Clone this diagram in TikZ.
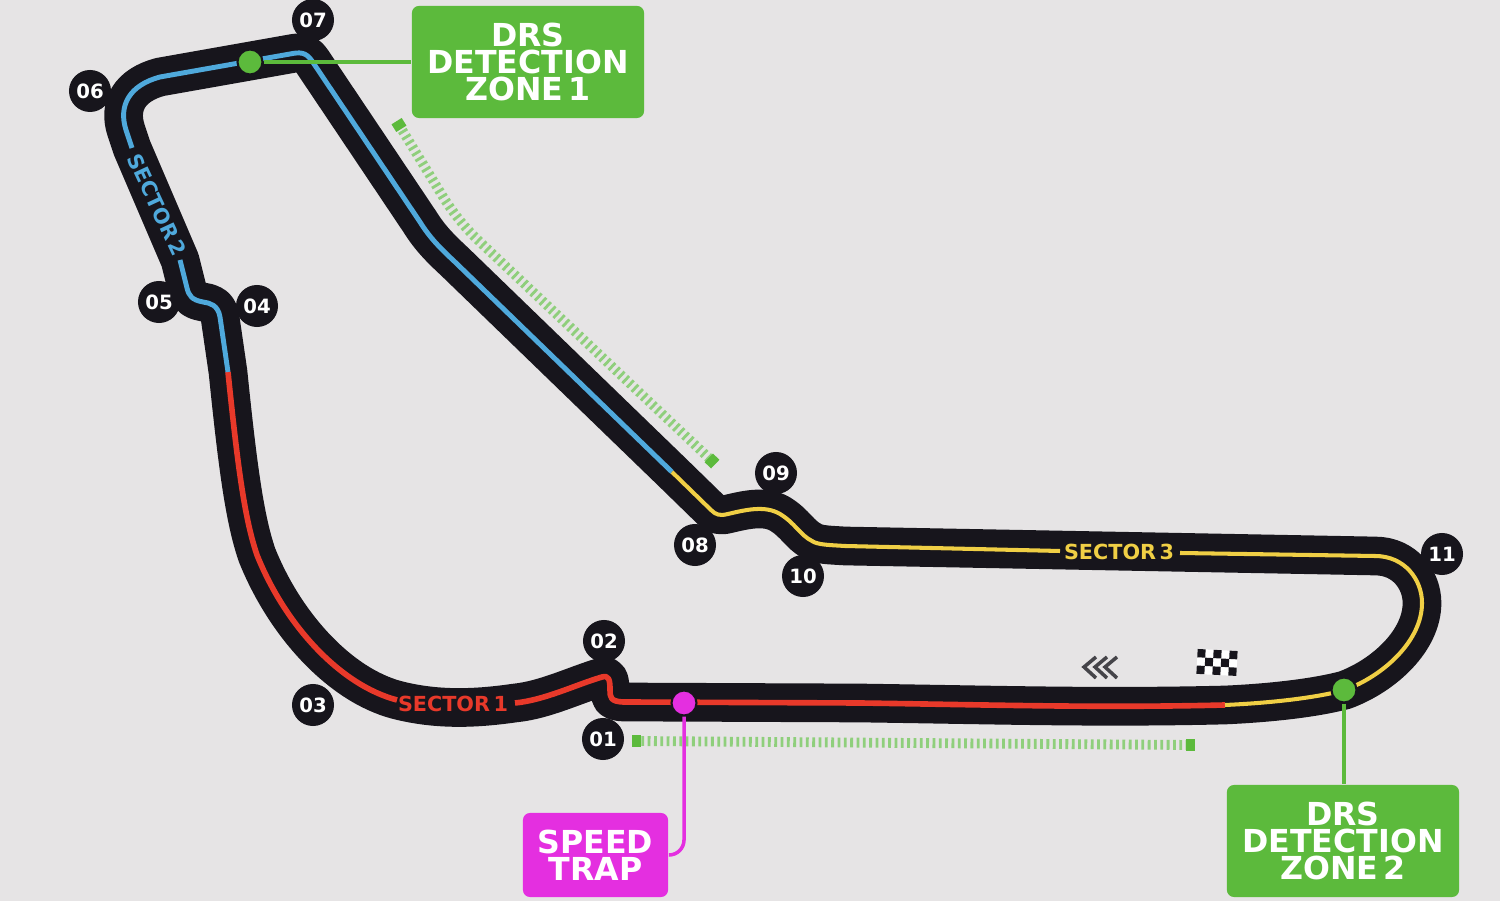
\documentclass[tikz,border=0pt]{standalone}
\usepackage{fontspec}
\setmainfont{DejaVu Sans}
\definecolor{pagegrey}{HTML}{E6E4E5}
\definecolor{trackblack}{HTML}{17151C}
\definecolor{drsgreen}{HTML}{5CBA3C}
\definecolor{dashgreen}{HTML}{8FCF7C}
\definecolor{trapmagenta}{HTML}{E42FE0}
\definecolor{sectorred}{HTML}{E8392A}
\definecolor{sectorblue}{HTML}{4FA9DC}
\definecolor{sectoryellow}{HTML}{F0CF45}

\begin{document}
\begin{tikzpicture}[x=0.01cm,y=-0.01cm,
    track/.style={trackblack,line width=11pt,line join=round,line cap=round},
    sector/.style={line cap=butt,line join=round},
    turn/.style={circle,fill=trackblack,text=white,inner sep=0pt,minimum size=0.42cm,font=\bfseries\fontsize{5.6}{6}\selectfont},
    tag/.style={inner sep=0pt,font=\bfseries\fontsize{5.9}{7}\selectfont},
    infobox/.style={rounded corners=0.07cm,text=white,align=center,inner sep=0pt,font=\bfseries\fontsize{9}{7.6}\selectfont},
    marker/.style={circle,draw=trackblack,line width=0.6pt,minimum size=0.25cm,inner sep=0pt},
    drszone/.style={dashgreen,line width=2.8pt,dash pattern=on 0.8pt off 1pt},
    zoneend/.style={fill=drsgreen,inner sep=0pt,minimum width=0.09cm,minimum height=0.12cm}]

    \fill[pagegrey] (0,0) rectangle (1500,901);
    \useasboundingbox (0,0) rectangle (1500,901);

    % drs zones
    \draw[drszone] (399,125) -- (445,200) .. controls (455,215) and (465,228) .. (480,242) -- (712,461);
    \draw[drszone] (635,741) -- (1190,745);
    \node[zoneend,rotate=-58] (zoneonestart) at (399,125) {};
    \node[zoneend,rotate=-44] (zoneoneend) at (712,461) {};
    \node[zoneend] (zonetwostart) at (636,741) {};
    \node[zoneend] (zonetwoend) at (1190,745) {};

    % black circuit
    \draw[track] (1225,705) .. controls (1100,708) and (1000,705) .. (860,703) -- (625,702)
        .. controls (610,702) and (610,697) .. (610,690) .. controls (610,680) and (609,675) .. (602,677)
        .. controls (575,685) and (545,700) .. (515,703) .. controls (480,708) and (440,711) .. (397,700)
        .. controls (340,685) and (285,625) .. (257,555) .. controls (245,520) and (238,470) .. (228,372)
        -- (220,317) .. controls (218,305) and (210,303) .. (203,302) .. controls (192,300) and (189,296) .. (187,288)
        -- (180,260) -- (132,148) -- (126,130) .. controls (118,105) and (130,85) .. (160,77)
        -- (290,54) .. controls (300,52) and (306,52) .. (312,61) -- (420,222)
        .. controls (430,238) and (440,248) .. (455,262) -- (672,472)
        -- (711,510) .. controls (716,515) and (720,516) .. (728,514) .. controls (745,510) and (765,505) .. (780,514)
        .. controls (795,523) and (800,535) .. (812,541) .. controls (818,545) and (830,545) .. (845,546)
        -- (1375,556) .. controls (1405,556) and (1422,580) .. (1422,603)
        .. controls (1422,640) and (1385,675) .. (1345,690) .. controls (1315,698) and (1270,703) .. (1225,705);

    % turn numbers
    \node[turn] (t1) at (603,739) {01};
    \node[turn] (t2) at (604,641) {02};
    \node[turn] (t3) at (313,705) {03};
    \node[turn] (t4) at (257,306) {04};
    \node[turn] (t5) at (159,302) {05};
    \node[turn] (t6) at (90,91) {06};
    \node[turn] (t7) at (313,20) {07};
    \node[turn] (t8) at (695,545) {08};
    \node[turn] (t9) at (776,473) {09};
    \node[turn] (t10) at (803,576) {10};
    \node[turn] (t11) at (1442,554) {11};

    % coloured sectors
    \draw[sector,sectorred,line width=1.6pt] (1225,705) .. controls (1100,708) and (1000,705) .. (860,703) -- (625,702)
        .. controls (610,702) and (610,697) .. (610,690) .. controls (610,680) and (609,675) .. (602,677)
        .. controls (575,685) and (545,700) .. (515,703);
    \draw[sector,sectorred,line width=1.6pt] (397,700) .. controls (340,685) and (285,625) .. (257,555)
        .. controls (245,520) and (238,470) .. (228,372);
    \draw[sector,sectorblue,line width=1.4pt] (228,372) -- (220,317) .. controls (218,305) and (210,303) .. (203,302)
        .. controls (192,300) and (189,296) .. (187,288) -- (180,260);
    \draw[sector,sectorblue,line width=1.4pt] (132,148) -- (126,130) .. controls (118,105) and (130,85) .. (160,77)
        -- (290,54) .. controls (300,52) and (306,52) .. (312,61) -- (420,222)
        .. controls (430,238) and (440,248) .. (455,262) -- (672,472);
    \draw[sector,sectoryellow,line width=1.15pt] (672,472) -- (711,510) .. controls (716,515) and (720,516) .. (728,514)
        .. controls (745,510) and (765,505) .. (780,514) .. controls (795,523) and (800,535) .. (812,541)
        .. controls (818,545) and (830,545) .. (845,546) -- (1060,551);
    \draw[sector,sectoryellow,line width=1.15pt] (1180,553) -- (1375,556) .. controls (1405,556) and (1422,580) .. (1422,603)
        .. controls (1422,640) and (1385,675) .. (1345,690) .. controls (1315,698) and (1270,703) .. (1225,705);

    \node[tag,text=sectorred] (s1) at (453,704) {SECTOR\,1};
    \node[tag,text=sectorblue,rotate=-65] (s2) at (157,205) {SECTOR\,2};
    \node[tag,text=sectoryellow] (s3) at (1119,552) {SECTOR\,3};

    % info boxes and their markers
    \node[infobox,fill=drsgreen,minimum width=2.32cm,minimum height=1.12cm] (drsbox1) at (528,62) {DRS\\DETECTION\\ZONE\,1};
    \node[infobox,fill=drsgreen,minimum width=2.32cm,minimum height=1.12cm] (drsbox2) at (1343,841) {DRS\\DETECTION\\ZONE\,2};
    \node[infobox,fill=trapmagenta,minimum width=1.45cm,minimum height=0.84cm] (trapbox) at (595.5,855) {SPEED\\TRAP};

    \node[marker,fill=drsgreen] (drsdot1) at (250,62) {};
    \node[marker,fill=drsgreen] (drsdot2) at (1344,690) {};
    \node[marker,fill=trapmagenta] (trapdot) at (684,703) {};

    \draw[drsgreen,line width=1pt] (drsdot1) -- (drsdot1 -| drsbox1.west);
    \draw[drsgreen,line width=1pt] (drsdot2) -- (drsdot2 |- drsbox2.north);
    \draw[trapmagenta,line width=1pt,rounded corners=0.15cm] (trapdot) |- (trapbox.east);

    % direction chevrons
    \foreach \tipx in {1084,1095,1105}
        \draw[trackblack!80,line width=1pt] (\tipx+12,657) -- (\tipx,667) -- (\tipx+12,678);

    % chequered flag
    \begin{scope}[rotate around={-3:(1217,662)}]
        \fill[white] (1197,650) rectangle (1237,675);
        \foreach \col/\row in {0/0,2/0,4/0,1/1,3/1,0/2,2/2,4/2}
            \fill[trackblack] (1197+\col*8,650+\row*8.3) rectangle ++(8,8.3);
    \end{scope}
\end{tikzpicture}
\end{document}
